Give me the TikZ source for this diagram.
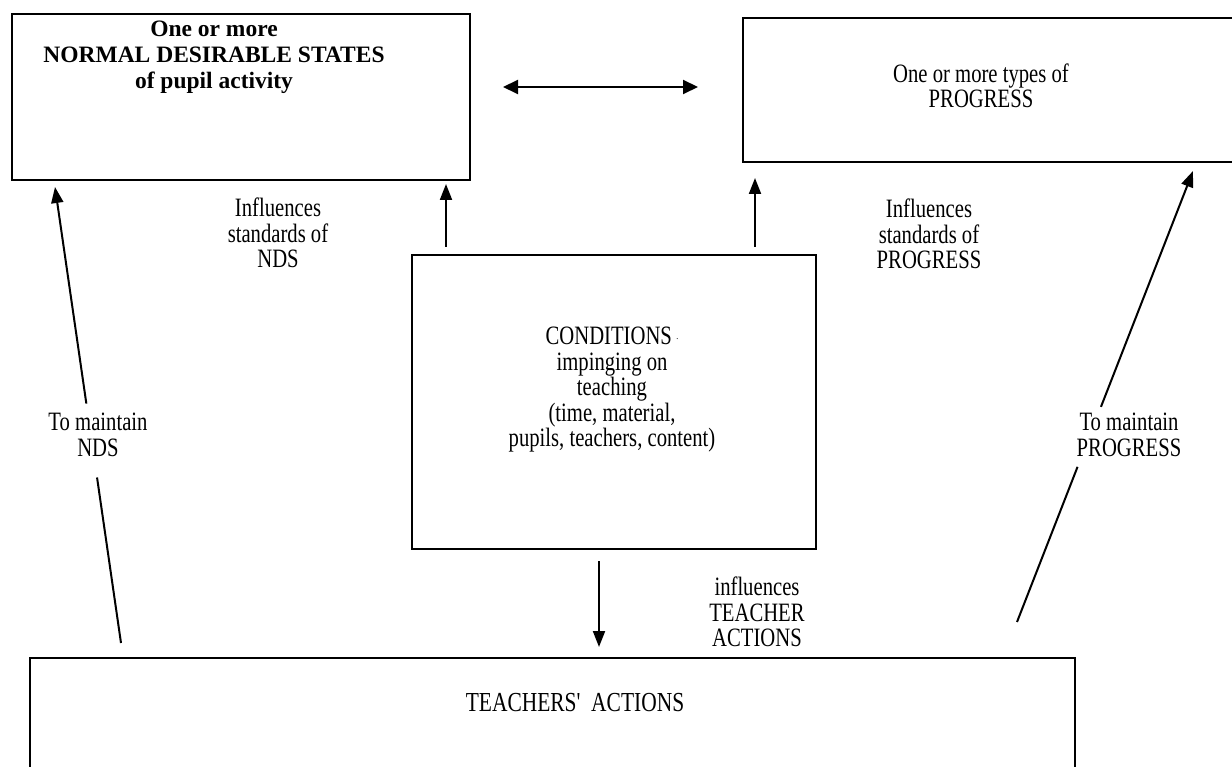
\documentclass[tikz,border=0pt]{standalone}
\usepackage{fontspec}
\setmainfont{Liberation Serif}
\newfontfamily\cnd[FakeStretch=0.78]{Liberation Serif}
\usetikzlibrary{arrows.meta,calc}
\begin{document}
\begin{tikzpicture}[x=1pt,y=-1pt,
  font=\cnd\fontsize{26.5}{25.5}\selectfont,
  box/.style={draw, line width=2.6pt, rectangle, inner sep=0pt, outer sep=0pt, anchor=north west},
  lbl/.style={align=center, inner sep=0pt},
  arr/.style={line width=2pt, -{Triangle[length=16pt,width=12pt]}},
  darr/.style={line width=2pt, {Triangle[length=15pt,width=14pt]}-{Triangle[length=15pt,width=14pt]}},
  seg/.style={line width=2pt}]
\useasboundingbox (0,0) rectangle (1232,767);
\fill[white] (0,0) rectangle (1232,767);
% boxes
\node[box, minimum width=458pt, minimum height=166pt] (nds) at (12,14) {};
\node[box, minimum width=520pt, minimum height=144pt] (prog) at (743,18) {};
\node[box, minimum width=404pt, minimum height=294pt] (cond) at (412,255) {};
\node[box, minimum width=1045pt, minimum height=140pt] (teach) at (30,658) {};
% box texts
\node[lbl, font=\rmfamily\bfseries\fontsize{23.5}{26}\selectfont] (ndstxt) at (214,57)
  {One or more\\NORMAL DESIRABLE STATES\\of pupil activity};
\node[lbl] (progtxt) at (981,86) {One or more types of\\PROGRESS};
\node[lbl] (condtxt) at (612,390)
  {CONDITIONS\,\raisebox{5pt}{\fontsize{10}{10}\selectfont.}\\impinging on\\teaching\\(time, material,\\pupils, teachers, content)};
\node[lbl, font=\cnd\fontsize{27.5}{26}\selectfont] (teachtxt) at (575,703) {TEACHERS'\ \ ACTIONS};
% connector labels
\node[lbl] (infnds) at (278,233) {Influences\\standards of\\NDS};
\node[lbl] (infprog) at (929,234) {Influences\\standards of\\PROGRESS};
\node[lbl] (mainnds) at (98,435) {To maintain\\NDS};
\node[lbl] (mainprog) at (1129,435) {To maintain\\PROGRESS};
\node[lbl] (infteach) at (757,612) {influences\\TEACHER\\ACTIONS};
% helper coordinates
\coordinate (c1) at (446,0);
\coordinate (c2) at (755,0);
\coordinate (c3) at (0,87);
\coordinate (c4) at (599,0);
\coordinate (l0) at (121,643);
\coordinate (l1) at (55,187);
\coordinate (r0) at (1017,622);
\coordinate (r1) at (1193,171);
% connectors
\draw[darr, shorten <=33pt, shorten >=45pt] (nds.east |- c3) -- (prog.west |- c3);
\draw[arr, shorten <=8pt, shorten >=4pt] (cond.north -| c1) -- (nds.south -| c1);
\draw[arr, shorten <=8pt, shorten >=16pt] (cond.north -| c2) -- (prog.south -| c2);
\draw[arr, shorten <=12pt, shorten >=11pt] (cond.south -| c4) -- (teach.north -| c4);
\draw[seg] (l0) -- ($(l0)!0.363!(l1)$);
\draw[arr] ($(l0)!0.525!(l1)$) -- (l1);
\draw[seg] (r0) -- ($(r0)!0.344!(r1)$);
\draw[arr] ($(r0)!0.477!(r1)$) -- (r1);
\end{tikzpicture}
\end{document}
